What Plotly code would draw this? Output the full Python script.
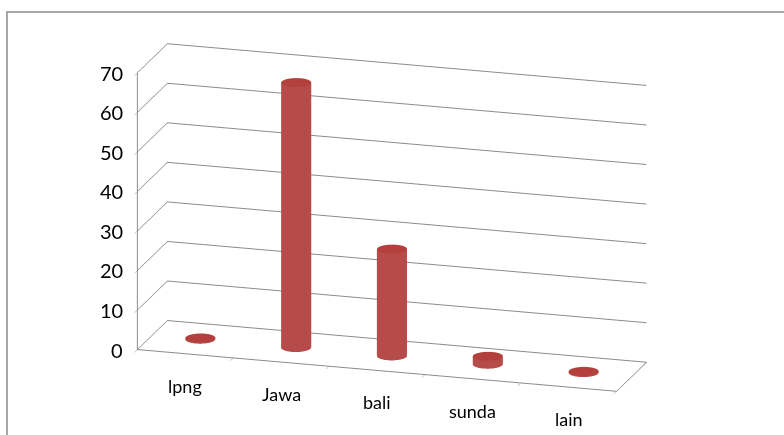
import numpy as np
import plotly.graph_objects as go

categories = ["lpng", "Jawa", "bali", "sunda", "lain"]
values = [0, 67, 27, 2, 0]
z_ticks = [0, 10, 20, 30, 40, 50, 60, 70]

RED = "#C0504D"
GRID = "#8C8C8C"
radius = 0.15
theta = np.linspace(0, 2 * np.pi, 48)

fig = go.Figure()
for i, (cat, v) in enumerate(zip(categories, values)):
    h = max(v, 0.3)
    xs = i + radius * np.cos(theta)
    ys = radius * np.sin(theta)
    X = np.vstack([xs, xs])
    Y = np.vstack([ys, ys])
    Z = np.vstack([np.zeros_like(xs), np.full_like(xs, h)])
    fig.add_trace(go.Surface(x=X, y=Y, z=Z, surfacecolor=np.zeros_like(Z),
                             colorscale=[[0, RED], [1, RED]], showscale=False, hoverinfo="skip",
                             lighting=dict(ambient=0.95, diffuse=0.35, specular=0.12, roughness=0.7, fresnel=0.05),
                             lightposition=dict(x=-500, y=-3000, z=1000)))
    rr = np.array([0, radius])
    Xc = i + np.outer(rr, np.cos(theta))
    Yc = np.outer(rr, np.sin(theta))
    Zc = np.full_like(Xc, h)
    fig.add_trace(go.Surface(x=Xc, y=Yc, z=Zc, surfacecolor=np.zeros_like(Zc),
                             colorscale=[[0, "#B3403D"], [1, "#B3403D"]], showscale=False, hoverinfo="skip",
                             lighting=dict(ambient=1.0, diffuse=0.05, specular=0.0)))

ann = []
for i, cat in enumerate(categories):
    ann.append(dict(x=i, y=-0.5, z=0, text=cat, showarrow=False, yshift=-32,
                    font=dict(family="Lato", size=18, color="black")))
for t in z_ticks:
    ann.append(dict(x=-0.5, y=-0.5, z=t, text=str(t), showarrow=False, xanchor="right", xshift=-12,
                    font=dict(family="Lato", size=20, color="black")))

axis_common = dict(showbackground=False, showspikes=False, gridcolor=GRID, gridwidth=2,
                   linecolor=GRID, linewidth=2, zeroline=False, title=dict(text=""),
                   showticklabels=False)
fig.update_layout(
    width=784, height=435,
    margin=dict(l=0, r=0, t=0, b=0),
    paper_bgcolor="white",
    showlegend=False,
    scene=dict(
        domain=dict(x=[0, 1], y=[0, 1]),
        xaxis=dict(axis_common, range=[-0.5, 4.5], tickvals=[i + 0.5 for i in range(-1, len(categories))],
                   showgrid=False, showline=True, ticks="outside", tickcolor=GRID, ticklen=6),
        yaxis=dict(axis_common, range=[-0.5, 0.5], showgrid=False, showline=True, ticks=""),
        zaxis=dict(axis_common, range=[0, 70], tickvals=z_ticks, showgrid=True, showline=True,
                   ticks="outside", tickcolor=GRID, ticklen=6),
        aspectmode="manual",
        aspectratio=dict(x=2.3, y=0.48, z=1.33),
        camera=dict(eye=dict(x=0.9, y=-3.0, z=0.95), up=dict(x=0, y=0, z=1),
                    center=dict(x=0.0, y=0, z=0.0), projection=dict(type="orthographic")),
        annotations=ann,
    ),
    shapes=[dict(type="rect", xref="paper", yref="paper", x0=7/784, x1=1.05,
                 y0=-0.05, y1=1 - 12/435, line=dict(color="#8C8C8C", width=1.5))],
)

fig.write_html("out.html")
